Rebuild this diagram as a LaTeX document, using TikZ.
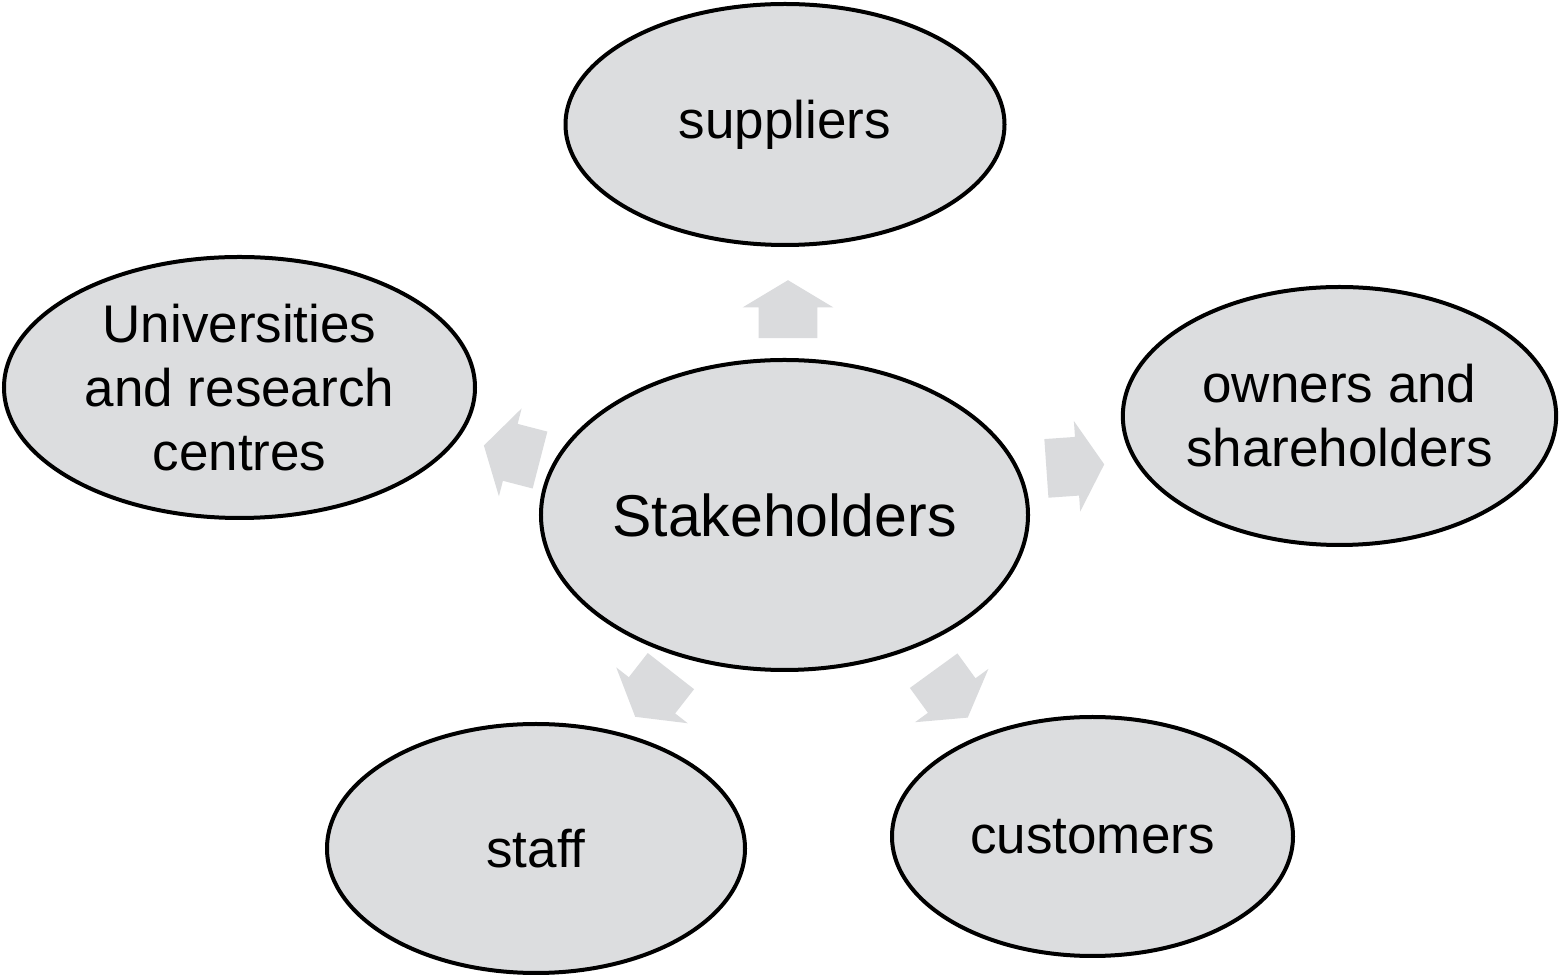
\documentclass[tikz,border=0pt]{standalone}
\usepackage{xcolor}
\usepackage{fontspec}
\setmainfont{Liberation Sans}[Ligatures=NoCommon]
\usepackage{tikz}
\usetikzlibrary{shapes.geometric,shapes.arrows,positioning,calc}
\definecolor{SHgray}{HTML}{DCDDDF}
\definecolor{SHarrow}{HTML}{DADBDD}
\tikzset{
  sh/bubble/.style={draw, ellipse, line width=2pt, fill=SHgray, inner sep=0pt, align=center,
    font=\fontsize{26.5}{32}\selectfont},
  sh/hub/.style={sh/bubble, font=\fontsize{29.5}{35}\selectfont},
  sh/arrow/.style={single arrow, fill=SHarrow, draw=none, inner xsep=0pt, inner ysep=14.5pt,
    minimum height=29pt, minimum width=45pt, single arrow head extend=8pt,
    single arrow tip angle=118}
}
\begin{document}
\begin{tikzpicture}[x=0.5pt, y=-0.5pt]
  \useasboundingbox (0,0) rectangle (1560,977);
  \node[sh/hub, minimum width=241.5pt, minimum height=155pt] (hub) at (784.5,515) {Stakeholders};
  \node[sh/bubble, minimum width=219.5pt, minimum height=120.5pt] (sup) at (785,124.5) {suppliers};
  \node[sh/bubble, minimum width=235.5pt, minimum height=130.5pt] (uni) at (239.5,387.5) {Universities\\and research\\centres};
  \node[sh/bubble, minimum width=215.5pt, minimum height=129pt] (own) at (1339.5,416) {owners and\\shareholders};
  \node[sh/bubble, minimum width=209pt, minimum height=124.5pt] (staff) at (536,848.5) {staff};
  \node[sh/bubble, minimum width=200.5pt, minimum height=119.5pt] (cust) at (1092.5,836.5) {customers};

  \node[sh/arrow, rotate=90] (a-sup) at (788,318) {};
  \node[sh/arrow, rotate=4] (a-own) at (1066.5,467) {};
  \node[sh/arrow, rotate=165.5] (a-uni) at (520.5,455) {};
  \node[sh/arrow, rotate=-128] (a-staff) at (658.5,687) {};
  \node[sh/arrow, rotate=-54] (a-cust) at (945.5,687) {};
\end{tikzpicture}
\end{document}
